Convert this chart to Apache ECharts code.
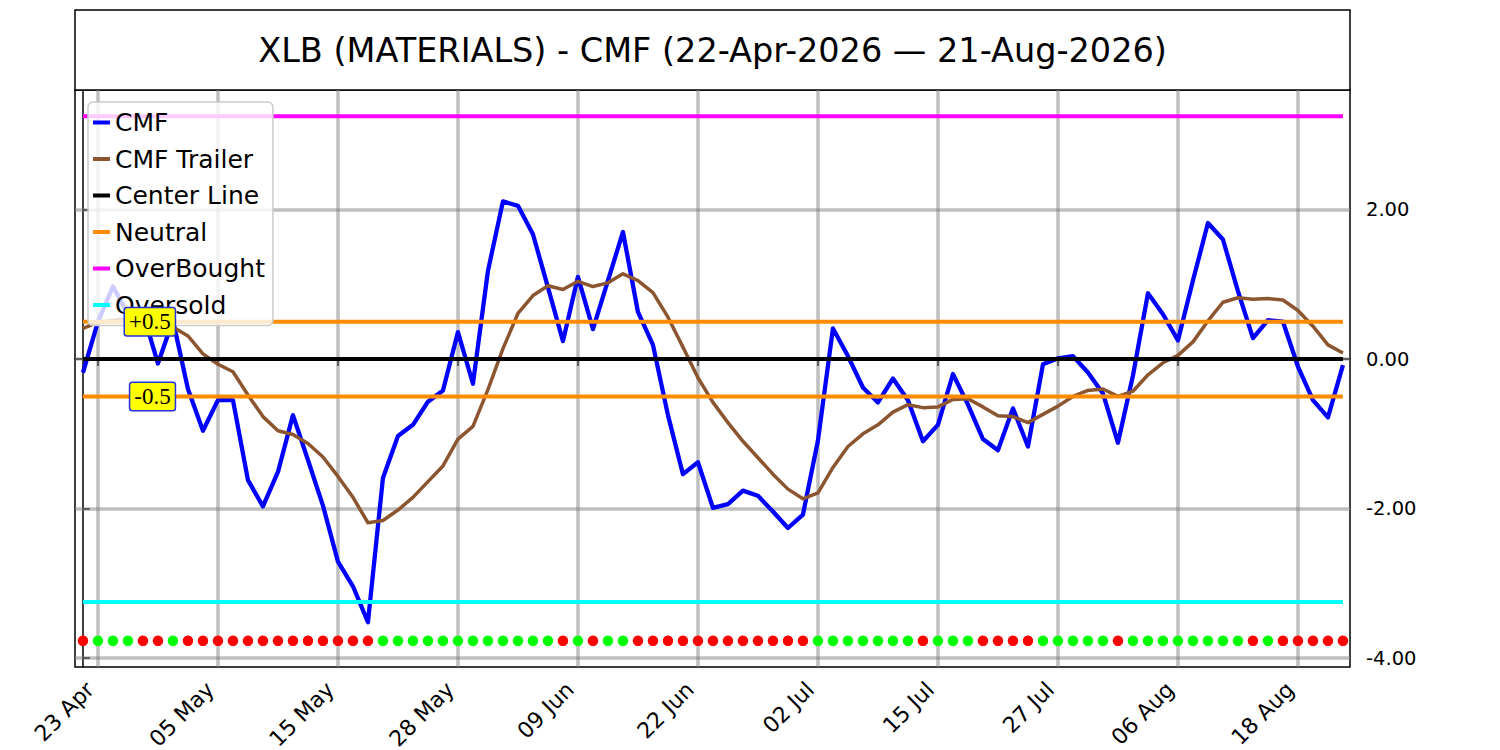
<!DOCTYPE html>
<html>
<head>
<meta charset="utf-8">
<title>XLB (MATERIALS) - CMF</title>
<script src="https://cdn.jsdelivr.net/npm/echarts@6/dist/echarts.min.js"></script>
<style>
  html, body { margin: 0; padding: 0; background: #fff; }
  #chart { width: 1500px; height: 750px; }
</style>
</head>
<body>
<div id="chart"></div>
<script>
// trading days 22-Apr-2026 .. 21-Aug-2026
var dates = [
    '22 Apr', '23 Apr', '24 Apr', '27 Apr', '28 Apr', '29 Apr', '30 Apr',
    '01 May', '04 May', '05 May', '06 May', '07 May', '08 May', '11 May', '12 May', '13 May', '14 May',
    '15 May', '18 May', '19 May', '20 May', '21 May', '22 May', '26 May', '27 May', '28 May', '29 May',
    '01 Jun', '02 Jun', '03 Jun', '04 Jun', '05 Jun', '08 Jun', '09 Jun', '10 Jun', '11 Jun', '12 Jun',
    '15 Jun', '16 Jun', '17 Jun', '18 Jun', '22 Jun', '23 Jun', '24 Jun', '25 Jun', '26 Jun', '29 Jun', '30 Jun',
    '01 Jul', '02 Jul', '06 Jul', '07 Jul', '08 Jul', '09 Jul', '10 Jul', '13 Jul', '14 Jul', '15 Jul',
    '16 Jul', '17 Jul', '20 Jul', '21 Jul', '22 Jul', '23 Jul', '24 Jul', '27 Jul', '28 Jul', '29 Jul',
    '30 Jul', '31 Jul', '03 Aug', '04 Aug', '05 Aug', '06 Aug', '07 Aug', '10 Aug', '11 Aug', '12 Aug',
    '13 Aug', '14 Aug', '17 Aug', '18 Aug', '19 Aug', '20 Aug', '21 Aug'
];

var cmf = [
    -0.18, 0.50, 0.97, 0.60, 0.62, -0.06, 0.52, -0.40, -0.96, -0.55,
    -0.55, -1.62, -1.97, -1.51, -0.75, -1.35, -1.96, -2.71, -3.04, -3.52,
    -1.59, -1.03, -0.88, -0.57, -0.42, 0.36, -0.33, 1.18, 2.11, 2.05,
    1.67, 0.96, 0.24, 1.10, 0.40, 1.05, 1.70, 0.63, 0.19, -0.75,
    -1.54, -1.38, -1.99, -1.94, -1.76, -1.83, -2.04, -2.26, -2.08, -1.09,
    0.41, 0.04, -0.38, -0.58, -0.26, -0.55, -1.10, -0.88, -0.20, -0.61,
    -1.07, -1.22, -0.66, -1.17, -0.07, 0.01, 0.04, -0.18, -0.46, -1.12,
    -0.22, 0.88, 0.60, 0.25, 1.05, 1.82, 1.60, 0.91, 0.28, 0.52,
    0.50, -0.10, -0.55, -0.78, -0.08
];

var trailer = [
    0.41, 0.49, 0.52, 0.54, 0.50, 0.42, 0.43, 0.31, 0.07, -0.07,
    -0.17, -0.48, -0.77, -0.96, -1.01, -1.13, -1.31, -1.57, -1.85, -2.19,
    -2.16, -2.02, -1.85, -1.64, -1.43, -1.07, -0.90, -0.41, 0.14, 0.61,
    0.85, 0.98, 0.93, 1.04, 0.97, 1.02, 1.14, 1.05, 0.89, 0.56,
    0.16, -0.25, -0.58, -0.85, -1.10, -1.32, -1.54, -1.74, -1.87, -1.79,
    -1.45, -1.17, -1.00, -0.88, -0.71, -0.61, -0.65, -0.64, -0.54, -0.53,
    -0.64, -0.76, -0.77, -0.85, -0.74, -0.63, -0.50, -0.42, -0.40, -0.50,
    -0.43, -0.21, -0.05, 0.05, 0.23, 0.51, 0.76, 0.82, 0.80, 0.81,
    0.79, 0.65, 0.44, 0.19, 0.08
];

// 1 = green dot, 0 = red dot
var signal = [
    0, 1, 1, 1, 0, 0, 1, 0, 0, 0, 0, 0, 0, 0, 0, 0, 0, 0, 0, 0,
    1, 1, 1, 1, 1, 1, 1, 1, 1, 1, 1, 1, 0, 1, 0, 1, 1, 0, 0, 0,
    0, 0, 0, 0, 0, 0, 0, 0, 0, 1, 1, 1, 1, 1, 1, 1, 0, 1, 1, 1,
    0, 0, 0, 0, 1, 1, 1, 1, 1, 0, 1, 1, 1, 1, 1, 1, 1, 1, 0, 1,
    0, 0, 0, 0, 0
];

var tickIdx = [1, 9, 17, 25, 33, 41, 49, 57, 65, 73, 81];
var yTicks = [-4, -2, 0, 2];

var centerLevel = 0;
var neutralLevels = [0.5, -0.5];
var overBought = 3.25;
var overSold = -3.25;
var dotLevel = -3.77;
var annotTexts = ['+0.5', '-0.5'];
var annotValues = [0.5, -0.5];

var font = 'DejaVu Sans';

function pairs(arr) {
    return arr.map(function (v, i) { return [i, v]; });
}
function flat(level) {
    return dates.map(function (d, i) { return [i, level]; });
}
function levelSeries(name, level, color) {
    return {
        name: name,
        type: 'line',
        data: flat(level),
        color: color,
        showSymbol: false,
        lineStyle: { color: color, width: 4 },
        z: 3,
        silent: true
    };
}

var myChart = echarts.init(document.getElementById('chart'), null, { renderer: 'svg' });

var option = {
    animation: false,
    backgroundColor: '#fff',
    graphic: [
        {
            type: 'rect',
            shape: { x: 75, y: 10, width: 1275, height: 80 },
            style: { fill: '#fff', stroke: '#000', lineWidth: 1.5 }
        },
        {
            type: 'text',
            x: 712.5,
            y: 50,
            style: {
                text: 'XLB (MATERIALS) - CMF (22-Apr-2026 \u2014 21-Aug-2026)',
                font: '33.5px "DejaVu Sans"',
                fill: '#000',
                align: 'center',
                verticalAlign: 'middle'
            }
        }
    ],
    legend: {
        data: ['CMF', 'CMF Trailer', 'Center Line', 'Neutral', 'OverBought', 'Oversold'],
        orient: 'vertical',
        left: 88,
        top: 102,
        padding: [8, 8, 8, 5],
        itemGap: 11.5,
        itemWidth: 17,
        itemHeight: 4,
        icon: 'rect',
        backgroundColor: 'rgba(255,255,255,0.8)',
        borderColor: '#cccccc',
        borderWidth: 1.5,
        borderRadius: 5,
        textStyle: { fontFamily: font, fontSize: 25, lineHeight: 25, color: '#000' }
    },
    grid: {
        left: 75,
        right: 150,
        top: 90,
        bottom: 83,
        outerBoundsMode: 'none',
        show: true,
        borderColor: '#000',
        borderWidth: 1.5,
        backgroundColor: 'transparent'
    },
    xAxis: {
        type: 'value',
        min: -0.53,
        max: 84.47,
        axisLine: { show: true, lineStyle: { color: '#000', width: 1.5 } },
        axisTick: { show: true, customValues: tickIdx, length: 7, lineStyle: { color: '#000', width: 1.5 } },
        axisLabel: {
            customValues: tickIdx,
            formatter: function (v) { return dates[v]; },
            rotate: 45,
            margin: 11,
            padding: [0, 11, 0, 0],
            color: '#000',
            fontFamily: font,
            fontSize: 22
        },
        splitLine: { show: false }
    },
    yAxis: {
        type: 'value',
        position: 'right',
        min: -4.12,
        max: 3.6,
        axisLine: { show: true, lineStyle: { color: '#000', width: 1.5 } },
        axisTick: { show: true, customValues: yTicks, length: 7, lineStyle: { color: '#000', width: 1.5 } },
        axisLabel: {
            customValues: yTicks,
            formatter: function (v) { return v.toFixed(2); },
            margin: 16,
            color: '#000',
            fontFamily: font,
            fontSize: 19.5
        },
        splitLine: { show: false }
    },
    series: [
        {
            name: 'grid',
            type: 'line',
            data: [],
            silent: true,
            markLine: {
                z: 1,
                silent: true,
                symbol: ['none', 'none'],
                label: { show: false },
                lineStyle: { color: 'rgba(128,128,128,0.5)', width: 3.5, type: 'solid' },
                emphasis: { disabled: true },
                data: tickIdx.map(function (i) { return { xAxis: i }; })
                    .concat(yTicks.map(function (v) { return { yAxis: v }; }))
            }
        },
        {
            name: 'CMF',
            type: 'line',
            data: pairs(cmf),
            color: '#0000ff',
            showSymbol: false,
            lineStyle: { color: '#0000ff', width: 4.3, join: 'round' },
            z: 2
        },
        {
            name: 'CMF Trailer',
            type: 'line',
            data: pairs(trailer),
            color: '#8b5530',
            showSymbol: false,
            lineStyle: { color: '#8b5530', width: 3.5, join: 'round' },
            z: 2
        },
        levelSeries('Center Line', centerLevel, '#000000'),
        levelSeries('Neutral', neutralLevels[0], '#ff8c00'),
        levelSeries('Neutral', neutralLevels[1], '#ff8c00'),
        levelSeries('OverBought', overBought, '#ff00ff'),
        levelSeries('Oversold', overSold, '#00ffff'),
        {
            name: 'signal',
            type: 'scatter',
            symbolSize: 10.5,
            z: 4,
            silent: true,
            data: signal.map(function (s, i) {
                return {
                    value: [i, dotLevel],
                    itemStyle: { color: s ? '#00ff00' : '#ff0000', opacity: 1 }
                };
            })
        },
        {
            name: 'annot',
            type: 'scatter',
            data: [],
            silent: true,
            markPoint: {
                z: 10,
                symbol: 'rect',
                symbolSize: 1,
                itemStyle: { color: 'rgba(0,0,0,0)' },
                label: {
                    show: true,
                    position: 'left',
                    distance: 0,
                    formatter: '{b}',
                    fontFamily: 'Liberation Serif',
                    fontSize: 23,
                    color: '#000',
                    backgroundColor: '#ffff00',
                    borderColor: '#2233dd',
                    borderWidth: 1.5,
                    borderRadius: 2,
                    padding: [3, 4, 1, 4]
                },
                data: annotTexts.map(function (t, k) {
                    return { name: t, coord: [6.15, annotValues[k]] };
                })
            }
        }
    ]
};

myChart.setOption(option);
</script>
</body>
</html>
